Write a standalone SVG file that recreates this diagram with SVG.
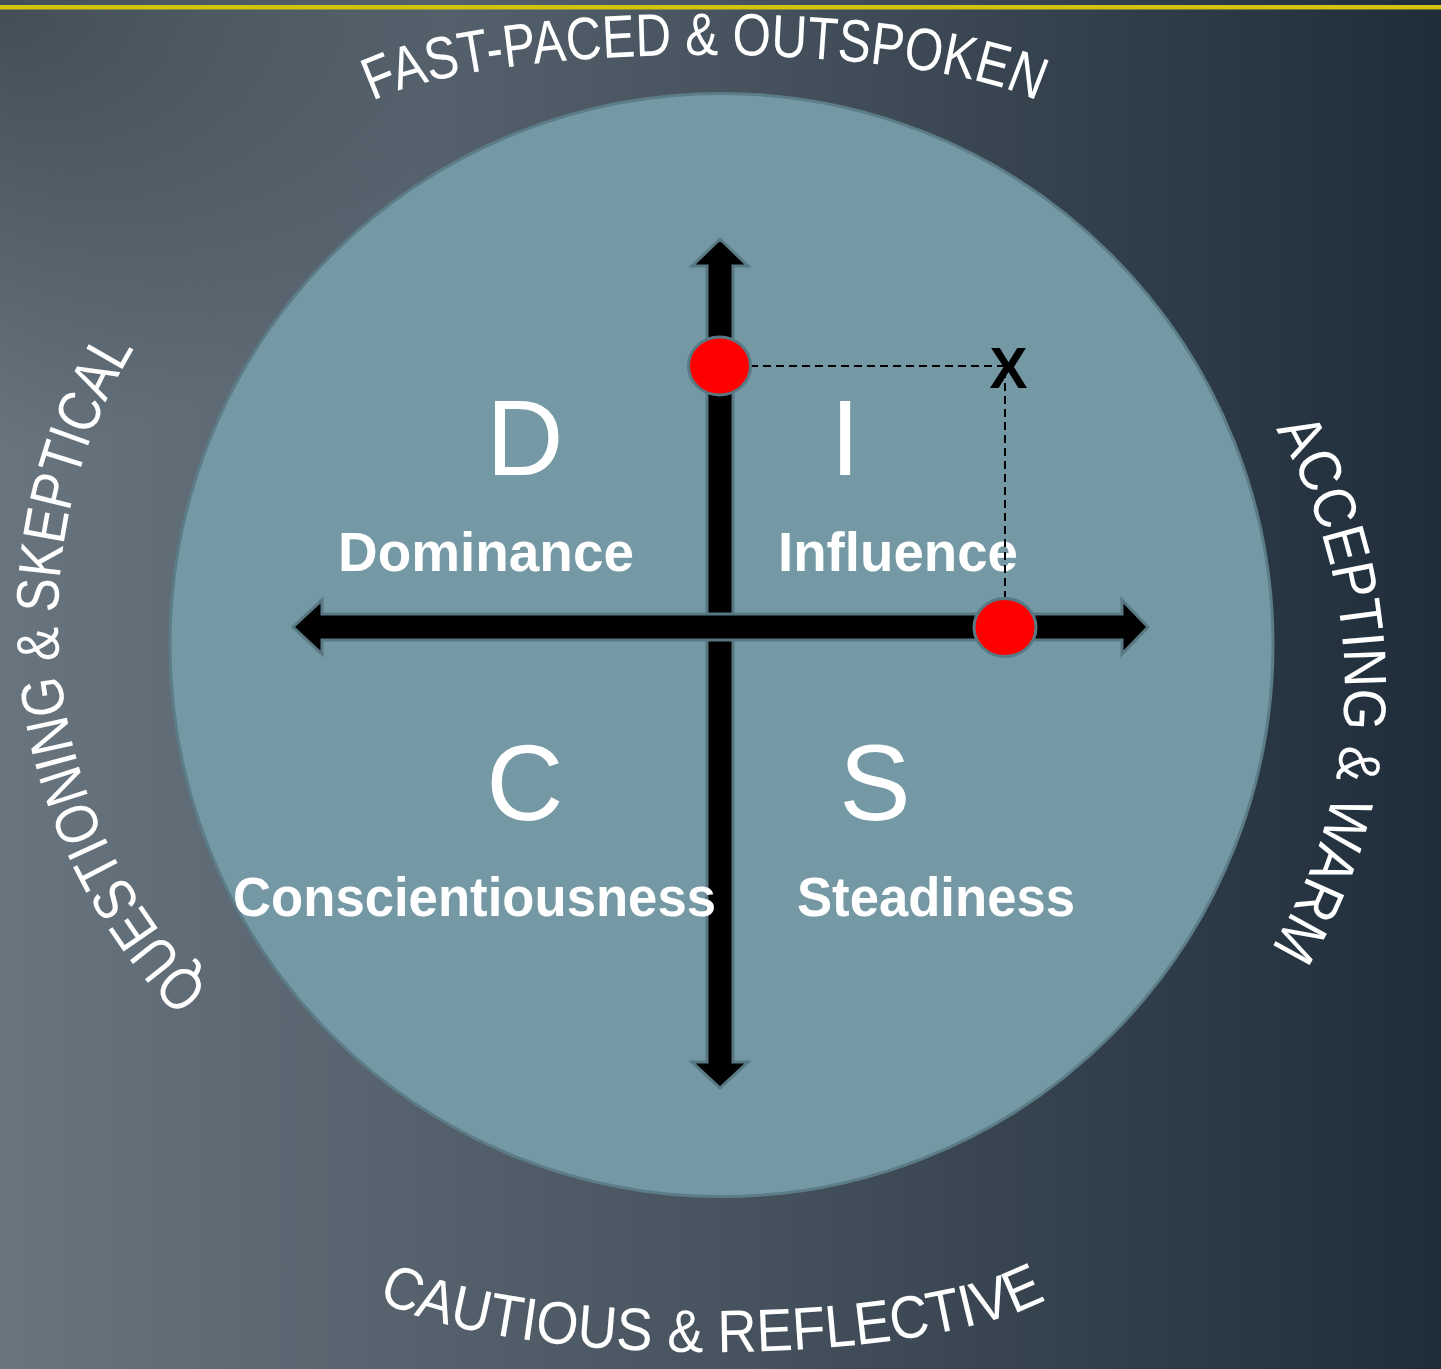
<svg xmlns="http://www.w3.org/2000/svg" width="1441" height="1369" viewBox="0 0 1441 1369">
<style>
.arc{font-family:"Liberation Sans","DejaVu Sans",sans-serif;font-size:60px;fill:#ffffff;text-anchor:middle;}
.big{font-family:"Liberation Sans","DejaVu Sans",sans-serif;font-size:107px;fill:#ffffff;text-anchor:middle;}
.lbl{font-family:"Liberation Sans","DejaVu Sans",sans-serif;font-size:56px;font-weight:bold;fill:#ffffff;}
.arrow{fill:#000000;stroke:#587984;stroke-width:3;stroke-linejoin:miter;}
.dot{fill:#ff0000;stroke:#587984;stroke-width:3;}
.dash{fill:none;stroke:#000000;stroke-width:2;stroke-dasharray:8 5;}
</style>
<defs>
<linearGradient id="bgLin" x1="0" y1="0" x2="1441" y2="0" gradientUnits="userSpaceOnUse">
<stop offset="0" stop-color="#68747e"/>
<stop offset="0.5" stop-color="#47545f"/>
<stop offset="1" stop-color="#1f2d3a"/>
</linearGradient>
<radialGradient id="bgTL" cx="0" cy="0" r="450" gradientUnits="userSpaceOnUse">
<stop offset="0" stop-color="#141e28" stop-opacity="0.45"/>
<stop offset="1" stop-color="#141e28" stop-opacity="0"/>
</radialGradient>
<path id="pTop" d="M 357 110.8 A 360 75 0 0 1 1053 110.8"/>
<path id="pBot" d="M 367 1292.8 A 365 88 0 0 0 1057 1292.8"/>
<path id="pLeft" d="M 225 1004 A 524 524 0 0 1 146 330"/>
<path id="pRight" d="M 1272 423 A 509 509 0 0 1 1267 955"/>
</defs>
<g id="background">
<rect x="0" y="0" width="1441" height="1369" fill="url(#bgLin)"/>
<rect x="0" y="0" width="1441" height="1369" fill="url(#bgTL)"/>
<rect x="0" y="5" width="1441" height="4.5" fill="#d2c40a"/>
</g>
<g id="circle">
<circle cx="721.5" cy="645" r="551.5" fill="#7599a4" stroke="#5c7c87" stroke-width="3"/>
</g>
<g id="outer-labels">
<text class="arc" id="t-top"><textPath href="#pTop" startOffset="50%" textLength="675" lengthAdjust="spacingAndGlyphs">FAST-PACED &amp; OUTSPOKEN</textPath></text>
<text class="arc" id="t-bottom"><textPath href="#pBot" startOffset="50%" textLength="682" lengthAdjust="spacingAndGlyphs">CAUTIOUS &amp; REFLECTIVE</textPath></text>
<text class="arc" id="t-left"><textPath href="#pLeft" startOffset="50%" textLength="695" lengthAdjust="spacingAndGlyphs">QUESTIONING &amp; SKEPTICAL</textPath></text>
<text class="arc" id="t-right"><textPath href="#pRight" startOffset="50%" textLength="545" lengthAdjust="spacingAndGlyphs">ACCEPTING &amp; WARM</textPath></text>
</g>
<g id="connectors">
<polygon class="arrow" points="720,239 748,266 733,266 733,1062 748,1062 720,1088 692,1062 707,1062 707,266 692,266"/>
<polygon class="arrow" points="293,627 322,600 322,614 1122,614 1122,600 1148,627 1122,654 1122,640 322,640 322,654"/>
</g>
<g id="node-D"><text class="big" x="525" y="475">D</text><text class="lbl" x="338" y="571" textLength="296" lengthAdjust="spacingAndGlyphs">Dominance</text></g>
<g id="node-C"><text class="big" x="525" y="820">C</text><text class="lbl" x="233" y="916" textLength="483" lengthAdjust="spacingAndGlyphs">Conscientiousness</text></g>
<g id="node-S"><text class="big" x="875" y="820">S</text><text class="lbl" x="797" y="916" textLength="278" lengthAdjust="spacingAndGlyphs">Steadiness</text></g>
<g id="node-I"><text class="big" x="845" y="475">I</text><text class="lbl" x="778" y="571" textLength="240" lengthAdjust="spacingAndGlyphs">Influence</text></g>
<g id="guides">
<line class="dash" x1="750" y1="366" x2="1005" y2="366"/>
<line class="dash" x1="1005" y1="370" x2="1005" y2="598"/>
</g>
<g id="markers">
<ellipse class="dot" cx="719.5" cy="366" rx="31" ry="29"/>
<ellipse class="dot" cx="1005" cy="627.5" rx="31" ry="29"/>
<text x="1008.5" y="388" font-family="Liberation Sans, sans-serif" font-size="57" font-weight="bold" fill="#000000" text-anchor="middle">X</text>
</g>
</svg>
